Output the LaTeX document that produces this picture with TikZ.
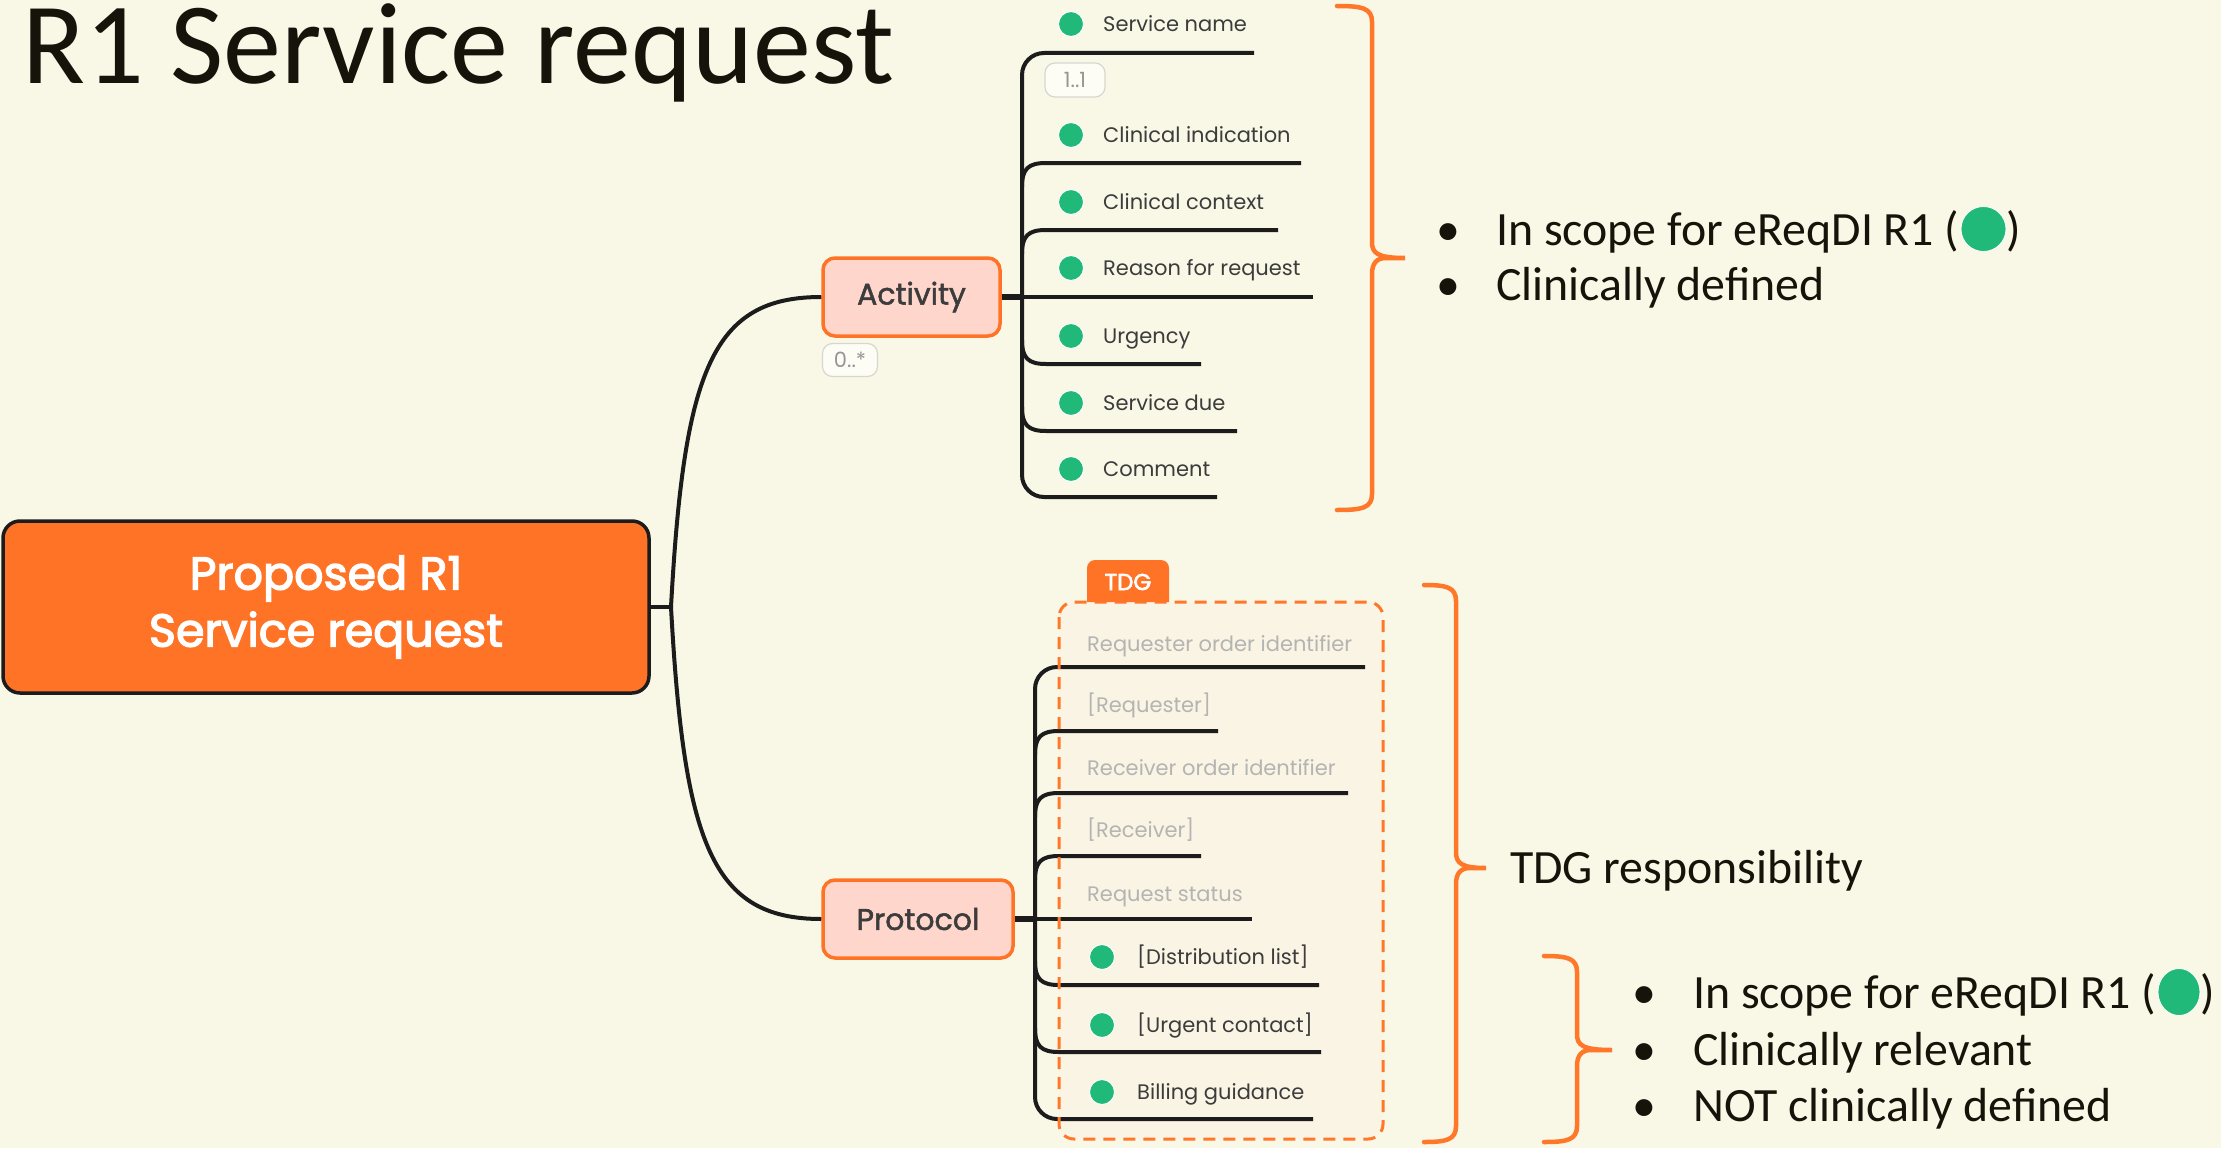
\documentclass[tikz,border=0pt]{standalone}
\usepackage{fontspec}
\setmainfont{Carlito}
\newfontfamily\pop{Poppins}
\usetikzlibrary{calc,shapes.geometric}
\definecolor{bgc}{RGB}{249,248,230}
\definecolor{orng}{RGB}{255,115,38}
\definecolor{brc}{RGB}{255,120,42}
\definecolor{pinkf}{RGB}{255,214,204}
\definecolor{grn}{RGB}{32,185,122}
\definecolor{dark}{RGB}{28,28,28}
\definecolor{itemtxt}{RGB}{60,60,60}
\definecolor{graytxt}{RGB}{180,180,178}
\definecolor{boxfill}{RGB}{250,244,228}
\definecolor{ink}{RGB}{22,20,10}
\definecolor{tagtxt}{RGB}{150,150,150}
\definecolor{tagdraw}{RGB}{215,215,208}
\newcommand\strk[2]{\special{pdf:literal direct #1 w 2 Tr}#2\special{pdf:literal direct 0 Tr}}
\newcommand\brup[2]{\draw[branch] ($(#2 |- #1)+(0,24)$) .. controls ($(#2 |- #1)+(0,6)$) and ($(#2 |- #1)+(6,0)$) .. ($(#2 |- #1)+(24,0)$) -- (#1);}
\newcommand\brdn[2]{\draw[branch] ($(#2 |- #1)+(0,-24)$) .. controls ($(#2 |- #1)+(0,-6)$) and ($(#2 |- #1)+(6,0)$) .. ($(#2 |- #1)+(24,0)$) -- (#1);}
\newcommand\mybrace[6]{\draw[bracestyle] (#5,#2) .. controls ({#1-10},#2) and (#1,{#2+2}) .. (#1,{#2+16}) -- (#1,{#3-16}) .. controls (#1,{#3-5}) and ({#1+5},#3) .. (#6,#3) -- ({#1+14},#3) .. controls ({#1+5},#3) and (#1,{#3+5}) .. (#1,{#3+16}) -- (#1,{#4-16}) .. controls (#1,{#4-2}) and ({#1-10},#4) .. (#5,#4);}
\begin{document}
\begin{tikzpicture}[x=1pt,y=-1pt,
  mainbox/.style={draw=dark, line width=3.5, fill=orng, rounded corners=17, minimum width=646, minimum height=172, inner sep=0, align=center, text=white, font=\pop\fontsize{46}{57}\selectfont},
  subbox/.style={draw=orng, line width=3.5, fill=pinkf, rounded corners=12, minimum height=78, inner sep=0, text=itemtxt, font=\pop\fontsize{30}{30}\selectfont},
  item/.style={anchor=west, inner sep=0, text height=14.5, text depth=0, text=itemtxt, font=\pop\fontsize{21}{21}\selectfont},
  gitem/.style={item, text=graytxt},
  gdot/.style={circle, fill=grn, draw=white, line width=1, minimum size=25, inner sep=0},
  bigdot/.style={ellipse, fill=grn, draw=white, line width=0.8, inner sep=0},
  tag/.style={draw=tagdraw, line width=1.2, fill=white!60!bgc, rounded corners=10, inner sep=0, text=tagtxt, font=\pop\fontsize{21}{21}\selectfont},
  conn/.style={draw=dark, line width=4},
  stem/.style={draw=dark, line width=6},
  branch/.style={draw=dark, line width=4},
  bracestyle/.style={draw=brc, line width=4.5, line cap=round},
  btxt/.style={anchor=base west, inner sep=0, text=ink, font=\fontsize{47.8}{47.8}\selectfont},
]
\fill[bgc] (0,0) rectangle (2221,1148);
\useasboundingbox (0,0) rectangle (2221,1148);

% title
\node[anchor=base west, inner sep=0, text=ink, font=\fontsize{116}{116}\selectfont] (title) at (22,83) {R1 Service request};

% main nodes
\node[mainbox] (main) at (326,607) {\raisebox{-7pt}{\strk{1.3}{Proposed R1}}\\\raisebox{-7pt}{\strk{1.3}{Service request}}};
\node[subbox, minimum width=177] (act) at (911.5,297) {\strk{0.5}{Activity}};
\node[subbox, minimum width=190] (prot) at (918,919) {\strk{0.5}{Protocol}};
\node[tag, minimum width=55, minimum height=33] (t0) at (850,360) {0..*};

\coordinate (j) at (671,607);
\draw[conn] (main.east) -- (j);
\draw[conn] (j) .. controls (684,370) and (712,297) .. (act.west);
\draw[conn] (j) .. controls (684,844) and (712,919) .. (prot.west);

% TDG group box (fill)
\fill[boxfill, rounded corners=15] (1059,602) rectangle (1383,1139);

% Activity branch
\coordinate (sA) at (1022,297);
\coordinate (u1) at (1254,53);
\coordinate (u2) at (1301,163);
\coordinate (u3) at (1278,230);
\coordinate (u4) at (1313,297);
\coordinate (u5) at (1201,364);
\coordinate (u6) at (1237,431);
\coordinate (u7) at (1217,497);
\draw[stem] (act.east) -- (sA);
\draw[branch, rounded corners=22] (u1) -- (sA |- u1) -- (sA |- u7) -- (u7);
\brup{u2}{sA}
\brup{u3}{sA}
\draw[branch] (sA) -- (u4);
\brdn{u5}{sA}
\brdn{u6}{sA}

\node[gdot] (d1) at (1071,24) {};
\node[item] (a1) at (1103,24) {Service name};
\node[tag, minimum width=60, minimum height=34] (t1) at (1075,80) {1..1};
\node[gdot] (d2) at (1071,135) {};
\node[item] (a2) at (1103,135) {Clinical indication};
\node[gdot] (d3) at (1071,202) {};
\node[item] (a3) at (1103,202) {Clinical context};
\node[gdot] (d4) at (1071,268) {};
\node[item] (a4) at (1103,268) {Reason for request};
\node[gdot] (d5) at (1071,336) {};
\node[item] (a5) at (1103,336) {Urgency};
\node[gdot] (d6) at (1071,403) {};
\node[item] (a6) at (1103,403) {Service due};
\node[gdot] (d7) at (1071,469) {};
\node[item] (a7) at (1103,469) {Comment};

% Protocol branch
\coordinate (sP) at (1035,919);
\coordinate (p1) at (1365,667);
\coordinate (p2) at (1218,731);
\coordinate (p3) at (1348,793);
\coordinate (p4) at (1201,856);
\coordinate (p5) at (1252,919);
\coordinate (p6) at (1319,985);
\coordinate (p7) at (1321,1052);
\coordinate (p8) at (1313,1119);
\draw[stem] (prot.east) -- (sP);
\draw[branch, rounded corners=22] (p1) -- (sP |- p1) -- (sP |- p8) -- (p8);
\brup{p2}{sP}
\brup{p3}{sP}
\brup{p4}{sP}
\draw[branch] (sP) -- (p5);
\brdn{p6}{sP}
\brdn{p7}{sP}

\node[gitem] (q1) at (1087,644) {Requester order identifier};
\node[gitem] (q2) at (1087,705) {[Requester]};
\node[gitem] (q3) at (1087,768) {Receiver order identifier};
\node[gitem] (q4) at (1087,830) {[Receiver]};
\node[gitem] (q5) at (1087,894) {Request status};
\node[gdot] (e6) at (1102,957) {};
\node[item] (q6) at (1137,957) {[Distribution list]};
\node[gdot] (e7) at (1102,1025) {};
\node[item] (q7) at (1137,1025) {[Urgent contact]};
\node[gdot] (e8) at (1102,1092) {};
\node[item] (q8) at (1137,1092) {Billing guidance};

% TDG group border and tag
\draw[brc, line width=3, dash pattern=on 12pt off 8pt, rounded corners=15] (1059,602) rectangle (1383,1139);
\fill[orng] (1087,602) [rounded corners=8] -- (1087,560) -- (1169,560) [sharp corners] -- (1169,602) -- cycle;
\node[inner sep=0, text=white, font=\pop\fontsize{23}{23}\selectfont] (tdg) at (1128,582) {\strk{0.6}{TDG}};

% braces
\mybrace{1372}{6}{258}{510}{1337}{1405}
\mybrace{1456}{585}{868}{1142}{1424}{1486}
\mybrace{1577}{956}{1050}{1142}{1544}{1612}

% annotations group 1
\node[btxt] (b1d) at (1436,245) {•};
\node[btxt] (b1) at (1496,245) {In scope for eReqDI R1 (};
\node[bigdot, minimum width=45, minimum height=45, anchor=west] (b1g) at ([xshift=1pt,yshift=16pt]b1.base east) {};
\node[btxt] (b1c) at (b1g.east |- b1.base) {)};
\node[btxt] (b2d) at (1436,300) {•};
\node[btxt] (b2) at (1496,300) {Clinically defined};

% TDG responsibility
\node[btxt] (tr) at (1510,883) {TDG responsibility};

% annotations group 2
\node[btxt] (c1d) at (1632,1008) {•};
\node[btxt] (c1) at (1693,1008) {In scope for eReqDI R1 (};
\node[bigdot, minimum width=42, minimum height=47, anchor=west] (c1g) at ([xshift=1pt,yshift=16pt]c1.base east) {};
\node[btxt] (c1c) at (c1g.east |- c1.base) {)};
\node[btxt] (c2d) at (1632,1065) {•};
\node[btxt] (c2) at (1693,1065) {Clinically relevant};
\node[btxt] (c3d) at (1632,1121) {•};
\node[btxt] (c3) at (1693,1121) {NOT clinically defined};
\end{tikzpicture}
\end{document}
